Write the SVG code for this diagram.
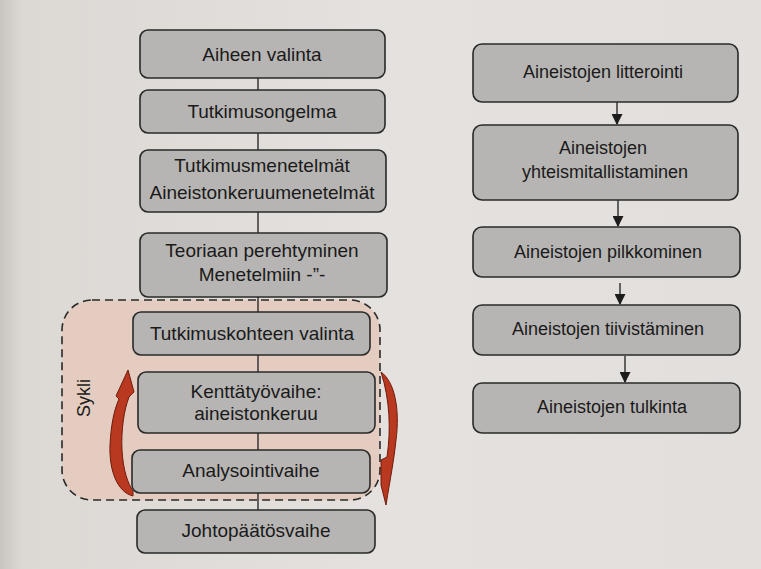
<svg xmlns="http://www.w3.org/2000/svg" width="761" height="569" viewBox="0 0 761 569">
<defs>
<style>
.box{fill:#b7b5b3;stroke:#2a2a2a;stroke-width:1.6}
.t{font-family:"Liberation Sans",Arial,sans-serif;font-size:19px;fill:#1a1a1a;text-anchor:middle}
.tr{font-family:"Liberation Sans",Arial,sans-serif;font-size:18px;fill:#1a1a1a;text-anchor:middle}
.ln{stroke:#2a2a2a;stroke-width:1.4;fill:none}
.red{fill:#b8391f;stroke:#6e1a0c;stroke-width:1}
</style>
<linearGradient id="bg" x1="0" y1="0" x2="1" y2="0">
<stop offset="0" stop-color="#c9c5c1"/>
<stop offset="0.03" stop-color="#dcd8d4"/>
<stop offset="0.5" stop-color="#e4e1de"/>
<stop offset="1" stop-color="#e2dfdc"/>
</linearGradient>
<marker id="ah" viewBox="0 0 10 10" refX="9" refY="5" markerWidth="11" markerHeight="11" markerUnits="userSpaceOnUse" orient="auto">
<path d="M0,0 L10,5 L0,10 Z" fill="#1c1c1c"/>
</marker>
</defs>
<rect x="0" y="0" width="761" height="569" fill="url(#bg)"/>

<g id="sykli-region">
<rect x="62" y="300" width="318" height="200" rx="30" ry="30" fill="#e4cdc0" stroke="#2a2a2a" stroke-width="1.6" stroke-dasharray="8,5"/>
<text x="90" y="398" transform="rotate(-90 90 398)" class="tr" font-size="17">Sykli</text>
</g>

<g id="connectors">
<line class="ln" x1="258" y1="78" x2="258" y2="510"/>
<line class="ln" x1="617" y1="101" x2="617" y2="124" marker-end="url(#ah)"/>
<line class="ln" x1="618" y1="199" x2="618" y2="226" marker-end="url(#ah)"/>
<line class="ln" x1="620" y1="283" x2="620" y2="304" marker-end="url(#ah)"/>
<line class="ln" x1="625" y1="356" x2="625" y2="382" marker-end="url(#ah)"/>
<path class="red" d="M133,496 C117,492 109,470 110,445 C111,425 114,410 119,399 L116,396 L128,370 L134,392 L129,397 C124,410 121,430 122,450 C123,470 128,484 133,491 Z"/>
<path class="red" d="M381,372 C395,382 400,410 396,440 C394,460 390,480 386,505 L381,485 L381,460 L387,457 C391,430 390,400 381,372 Z"/>
</g>

<g id="n1"><rect class="box" x="140" y="30" width="245" height="48" rx="8"/><text class="t" x="262" y="61">Aiheen valinta</text></g>
<g id="n2"><rect class="box" x="140" y="90" width="245" height="43" rx="8"/><text class="t" x="262" y="118">Tutkimusongelma</text></g>
<g id="n3"><rect class="box" x="140" y="150" width="246" height="62" rx="8"/><text class="t" x="262" y="172">Tutkimusmenetelmät</text><text class="t" x="262" y="199">Aineistonkeruumenetelmät</text></g>
<g id="n4"><rect class="box" x="140" y="233" width="247" height="64" rx="8"/><text class="t" x="262" y="257">Teoriaan perehtyminen</text><text class="t" x="262" y="281">Menetelmiin -”-</text></g>
<g id="n5"><rect class="box" x="133" y="312" width="237" height="43" rx="8"/><text class="t" x="252" y="340">Tutkimuskohteen valinta</text></g>
<g id="n6"><rect class="box" x="138" y="372" width="237" height="61" rx="8"/><text class="t" x="256" y="398">Kenttätyövaihe:</text><text class="t" x="256" y="420">aineistonkeruu</text></g>
<g id="n7"><rect class="box" x="132" y="450" width="238" height="43" rx="8"/><text class="t" x="251" y="477">Analysointivaihe</text></g>
<g id="n8"><rect class="box" x="137" y="510" width="238" height="43" rx="8"/><text class="t" x="256" y="537">Johtopäätösvaihe</text></g>

<g id="r1"><rect class="box" x="473" y="44" width="265" height="58" rx="9"/><text class="tr" x="603" y="78">Aineistojen litterointi</text></g>
<g id="r2"><rect class="box" x="473" y="125" width="265" height="75" rx="9"/><text class="tr" x="603" y="154">Aineistojen</text><text class="tr" x="605" y="178">yhteismitallistaminen</text></g>
<g id="r3"><rect class="box" x="473" y="227" width="267" height="50" rx="9"/><text class="tr" x="608" y="258">Aineistojen pilkkominen</text></g>
<g id="r4"><rect class="box" x="473" y="305" width="267" height="50" rx="9"/><text class="tr" x="608" y="335">Aineistojen tiivistäminen</text></g>
<g id="r5"><rect class="box" x="473" y="383" width="267" height="50" rx="9"/><text class="tr" x="612" y="413">Aineistojen tulkinta</text></g>
</svg>
